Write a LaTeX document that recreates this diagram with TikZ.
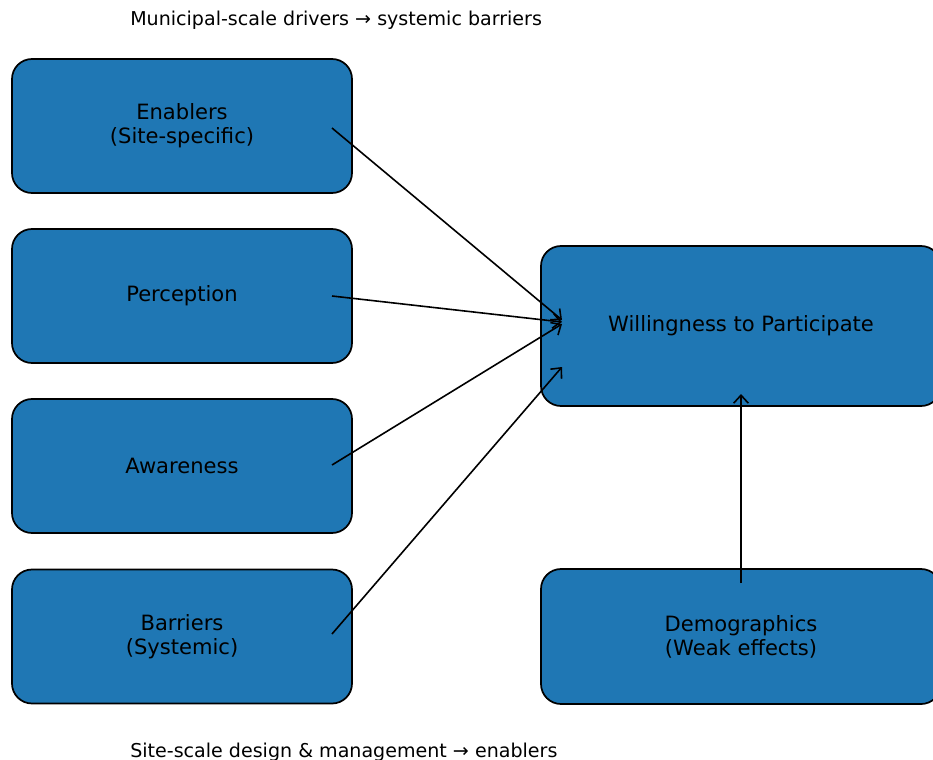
\documentclass[tikz,border=0pt]{standalone}
\usepackage{fontspec}
\setmainfont{DejaVu Sans}
\usetikzlibrary{arrows.meta}
\definecolor{boxblue}{HTML}{1F77B4}
\tikzset{
  box/.style={draw, fill=boxblue, rounded corners=15pt, align=center, inner sep=0pt,
    line width=1.3pt, font=\fontsize{15.8}{18}\selectfont},
  leftbox/.style={box, minimum width=255pt, minimum height=100.5pt},
  arr/.style={-{Straight Barb[length=6pt,width=11pt]}, line width=1.2pt},
  note/.style={anchor=west, inner sep=0pt, font=\fontsize{14.3}{17}\selectfont}
}
\begin{document}
\begin{tikzpicture}[x=0.75pt, y=-0.75pt]
  \useasboundingbox (0,0) rectangle (933,760);
  % left column
  \node[leftbox] (enablers) at (182,126) {Enablers\\(Site-specific)};
  \node[leftbox] (perception) at (182,296) {Perception};
  \node[leftbox] (awareness) at (182,466) {Awareness};
  \node[leftbox] (barriers) at (182,636.5) {Barriers\\(Systemic)};
  % right column
  \node[box, minimum width=300pt, minimum height=120pt] (willing) at (741,326) {Willingness to Participate};
  \node[box, minimum width=300pt, minimum height=101.25pt] (demo) at (741,636.5) {Demographics\\(Weak effects)};
  % notes
  \node[note] (top) at (130,20) {Municipal-scale drivers → systemic barriers};
  \node[note] (bottom) at (130,752) {Site-scale design \& management → enablers};
  % arrow ends
  \coordinate (enablers-out) at (332,128);
  \coordinate (perception-out) at (332,296);
  \coordinate (awareness-out) at (332,465);
  \coordinate (barriers-out) at (332,634);
  \coordinate (demo-out) at (741,583);
  \coordinate (willing-in1) at (562,320);
  \coordinate (willing-in2) at (562,322);
  \coordinate (willing-in3) at (562,324);
  \coordinate (willing-in4) at (562,367);
  \coordinate (willing-in5) at (741,394);
  \draw[arr] (enablers-out) -- (willing-in1);
  \draw[arr] (perception-out) -- (willing-in2);
  \draw[arr] (awareness-out) -- (willing-in3);
  \draw[arr] (barriers-out) -- (willing-in4);
  \draw[arr] (demo-out) -- (willing-in5);
\end{tikzpicture}
\end{document}
